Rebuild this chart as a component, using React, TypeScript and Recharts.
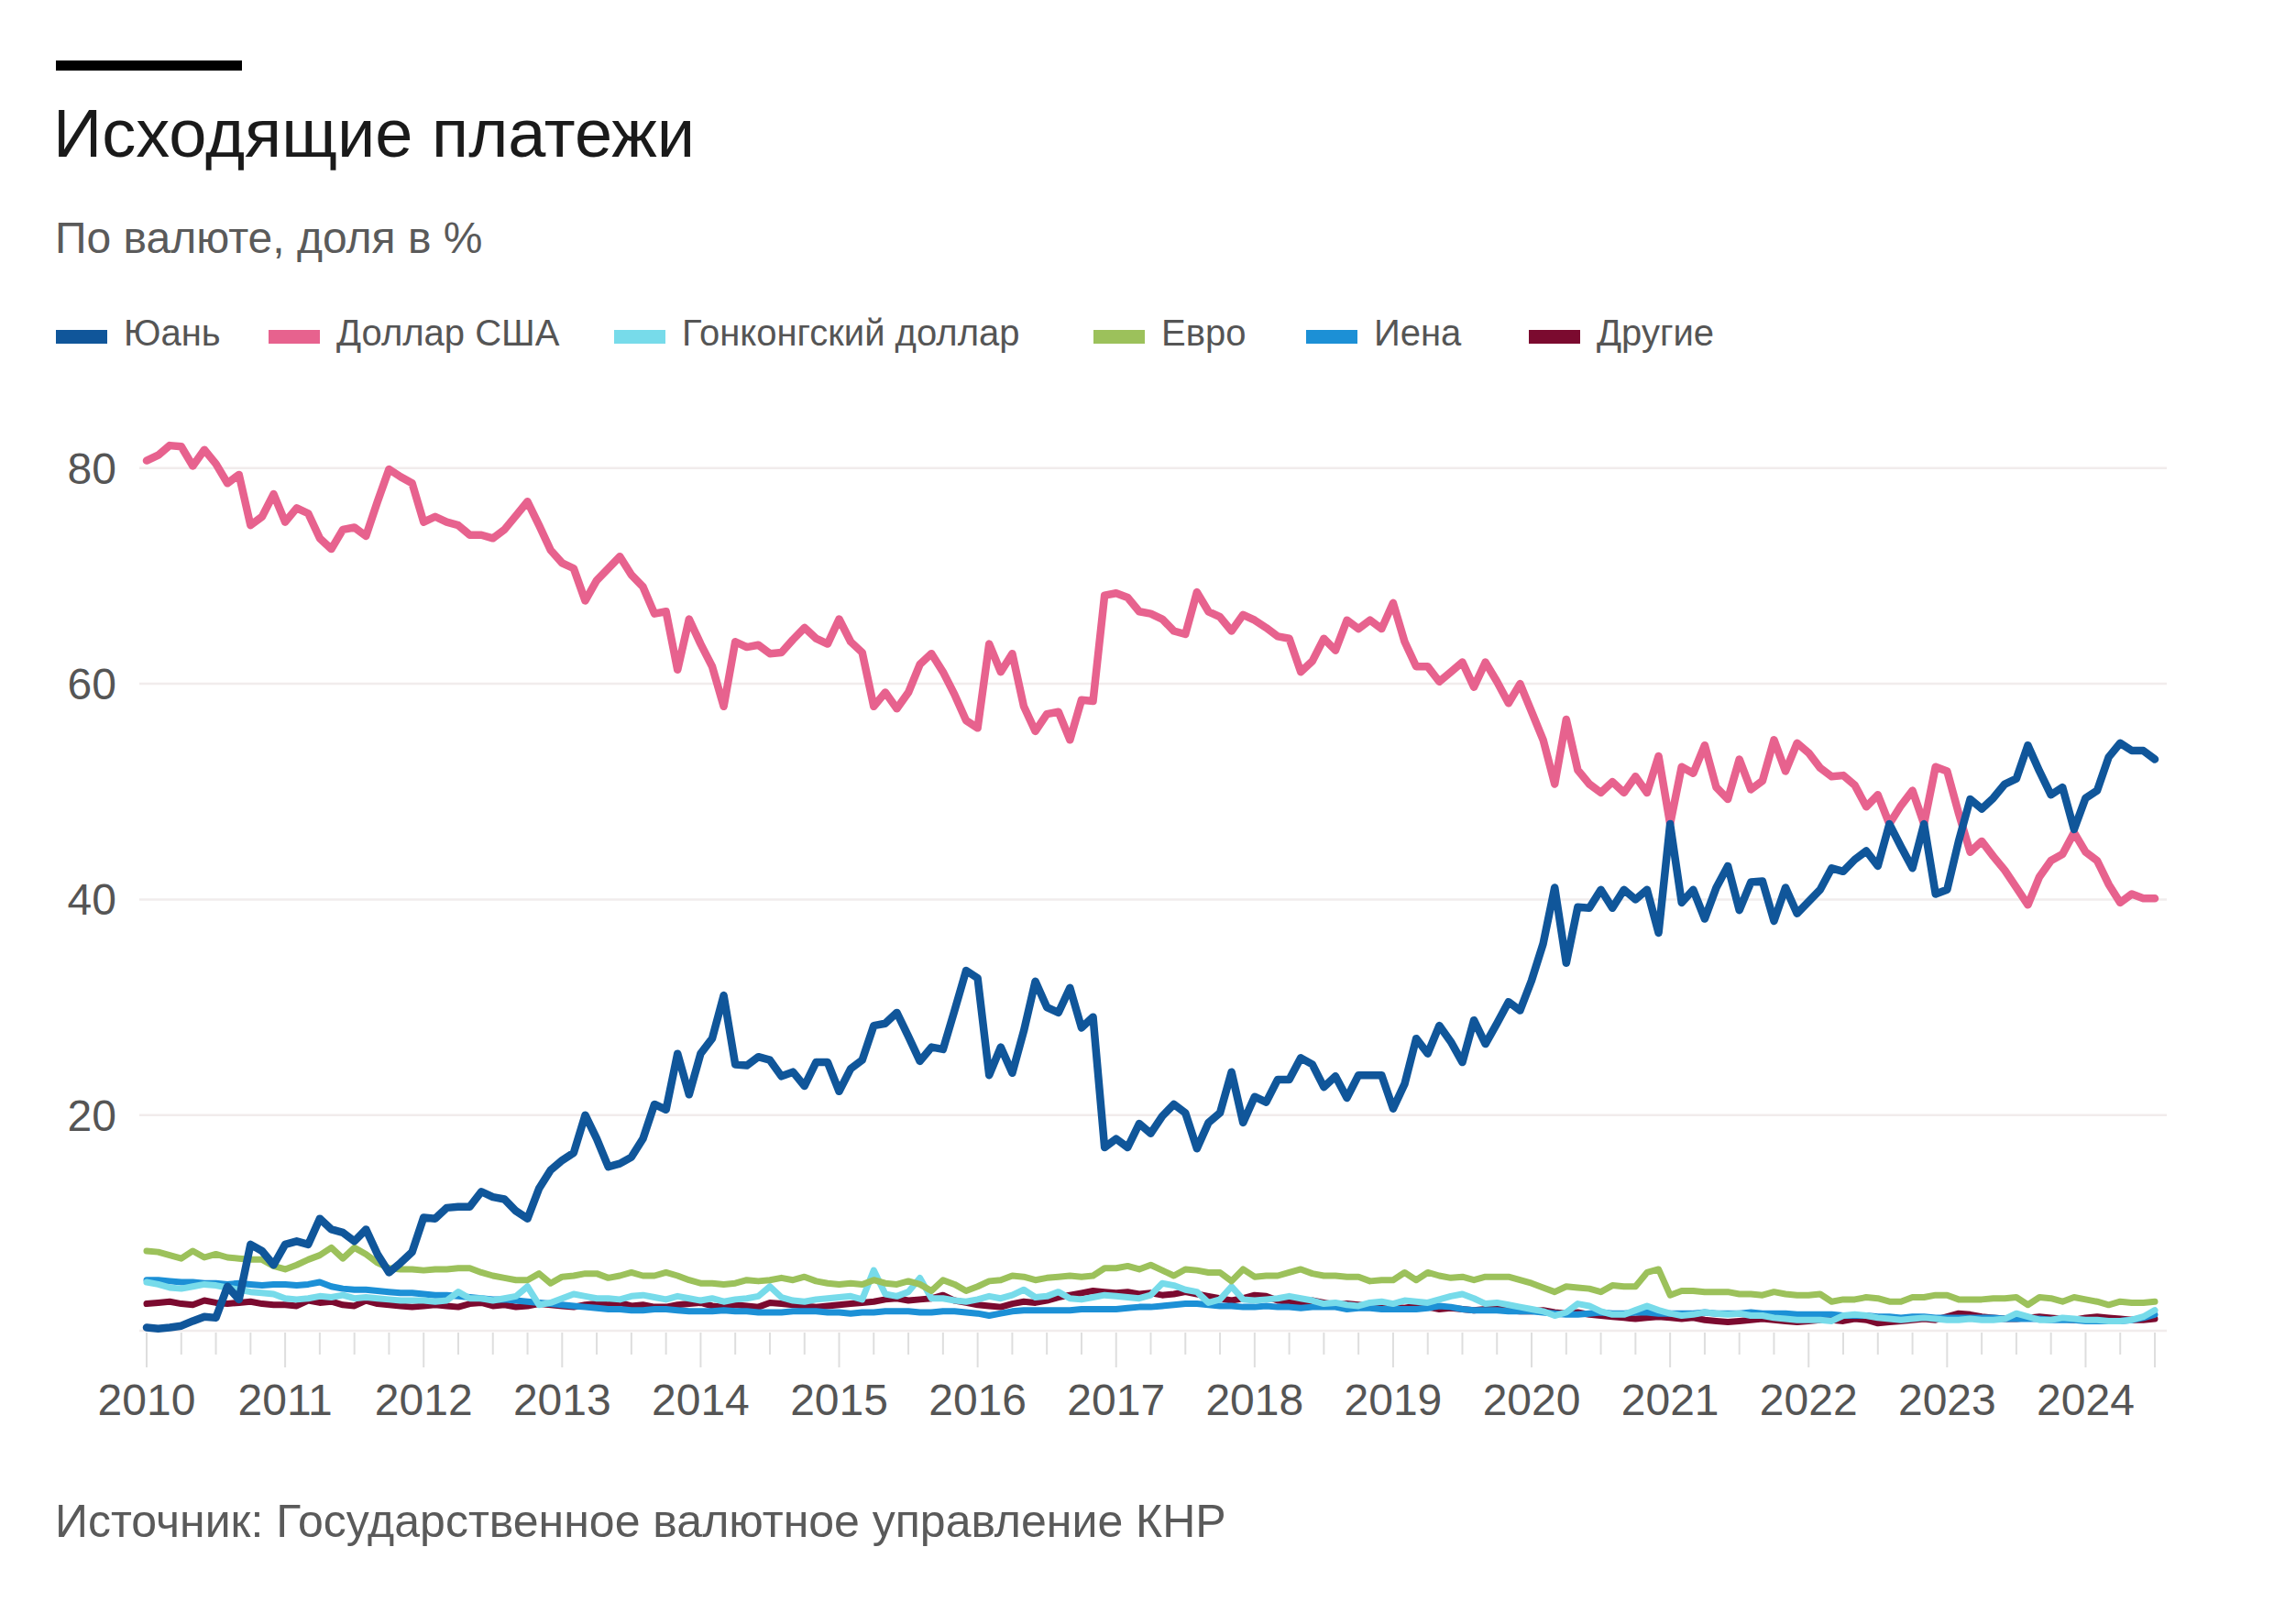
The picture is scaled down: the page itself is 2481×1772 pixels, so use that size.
import { LineChart, Line, XAxis, YAxis, ReferenceLine } from 'recharts';

// monthly shares, Jan 2010 .. Jul 2024 (one row per year)
const START_YEAR = 2010;

const yuan = [
  0.3, 0.2, 0.3, 0.45, 0.9, 1.3, 1.2, 4.1, 2.9, 8.0, 7.4, 6.1,
  8.0, 8.3, 8.0, 10.4, 9.4, 9.1, 8.3, 9.4, 7.1, 5.4, 6.3, 7.3,
  10.5, 10.4, 11.4, 11.5, 11.5, 12.9, 12.4, 12.2, 11.1, 10.4, 13.2, 14.9,
  15.8, 16.5, 20.0, 17.8, 15.2, 15.5, 16.1, 17.8, 21.0, 20.5, 25.7, 21.9,
  25.7, 27.1, 31.1, 24.7, 24.6, 25.4, 25.1, 23.6, 24.0, 22.7, 24.9, 24.9,
  22.2, 24.3, 25.1, 28.3, 28.5, 29.5, 27.3, 25.0, 26.3, 26.1, 29.7, 33.4,
  32.7, 23.7, 26.3, 23.9, 27.8, 32.4, 30.0, 29.5, 31.8, 28.1, 29.1, 17.0,
  17.8, 17.0, 19.2, 18.3, 19.9, 21.0, 20.2, 16.9, 19.3, 20.2, 24.0, 19.3,
  21.7, 21.2, 23.3, 23.3, 25.3, 24.7, 22.6, 23.6, 21.6, 23.7, 23.7, 23.7,
  20.6, 22.9, 27.1, 25.7, 28.3, 26.8, 24.9, 28.8, 26.6, 28.5, 30.5, 29.7,
  32.5, 35.9, 41.1, 34.1, 39.3, 39.2, 40.9, 39.2, 40.9, 40.0, 40.9, 36.9,
  47.0, 39.7, 40.9, 38.2, 41.1, 43.1, 39.0, 41.6, 41.7, 38.0, 41.1, 38.7,
  39.8, 40.9, 42.9, 42.6, 43.7, 44.5, 43.1, 47.0, 44.9, 42.9, 47.0, 40.5,
  40.9, 45.4, 49.3, 48.4, 49.4, 50.7, 51.2, 54.3, 51.9, 49.7, 50.4, 46.5,
  49.4, 50.1, 53.2, 54.5, 53.8, 53.8, 53.0,
];

const usd = [
  80.7, 81.2, 82.1, 82.0, 80.2, 81.7, 80.4, 78.6, 79.4, 74.7, 75.5, 77.6,
  75.0, 76.3, 75.8, 73.5, 72.5, 74.3, 74.5, 73.7, 76.9, 79.9, 79.2, 78.6,
  75.0, 75.5, 75.0, 74.7, 73.8, 73.8, 73.5, 74.3, 75.6, 76.9, 74.7, 72.4,
  71.2, 70.7, 67.7, 69.6, 70.7, 71.8, 70.1, 69.0, 66.5, 66.7, 61.3, 66.0,
  63.7, 61.6, 57.9, 63.9, 63.4, 63.6, 62.8, 62.9, 64.1, 65.2, 64.2, 63.7,
  66.0, 63.9, 62.9, 57.9, 59.2, 57.7, 59.2, 61.8, 62.8, 61.1, 59.0, 56.6,
  55.9, 63.7, 61.1, 62.8, 57.9, 55.6, 57.2, 57.4, 54.8, 58.5, 58.4, 68.2,
  68.4, 68.0, 66.7, 66.5, 66.0, 64.9, 64.6, 68.5, 66.7, 66.2, 64.9, 66.4,
  65.9, 65.2, 64.4, 64.2, 61.1, 62.1, 64.2, 63.1, 65.9, 65.1, 65.9, 65.1,
  67.5, 63.9, 61.6, 61.6, 60.2, 61.1, 62.0, 59.7, 62.0, 60.2, 58.2, 60.0,
  57.4, 54.8, 50.7, 56.7, 52.0, 50.7, 49.9, 50.9, 49.9, 51.4, 49.9, 53.3,
  47.0, 52.3, 51.7, 54.3, 50.4, 49.3, 53.0, 50.2, 51.0, 54.8, 51.9, 54.5,
  53.6, 52.2, 51.4, 51.5, 50.6, 48.6, 49.7, 47.0, 48.7, 50.1, 47.0, 52.3,
  51.9, 48.0, 44.4, 45.4, 44.0, 42.7, 41.1, 39.5, 42.1, 43.6, 44.2, 46.2,
  44.4, 43.6, 41.4, 39.7, 40.5, 40.1, 40.1,
];

const hkd = [
  4.5, 4.3, 4.0, 3.9, 4.1, 4.3, 4.2, 4.0, 3.8, 3.6, 3.5, 3.4,
  3.0, 2.9, 3.0, 3.2, 3.1, 3.3, 3.0, 3.1, 3.0, 2.9, 2.8, 2.8,
  2.8, 2.7, 2.8, 3.6, 3.0, 3.0, 2.8, 3.0, 3.2, 4.1, 2.4, 2.6,
  3.0, 3.4, 3.2, 3.0, 3.0, 2.9, 3.2, 3.3, 3.1, 2.9, 3.2, 3.0,
  2.8, 3.0, 2.7, 2.9, 3.0, 3.2, 4.1, 3.1, 2.8, 2.7, 2.9, 3.0,
  3.1, 3.2, 2.9, 5.6, 3.4, 3.2, 3.6, 4.9, 3.0, 3.0, 2.8, 2.7,
  2.9, 3.2, 3.0, 3.3, 3.8, 3.1, 3.2, 3.6, 3.0, 2.9, 3.1, 3.3,
  3.2, 3.1, 3.0, 3.3, 4.4, 4.2, 3.8, 3.6, 2.6, 2.9, 4.1, 2.9,
  2.8, 2.9, 3.0, 3.2, 3.0, 2.8, 2.5, 2.6, 2.4, 2.3, 2.6, 2.7,
  2.5, 2.8, 2.7, 2.6, 2.9, 3.2, 3.4, 3.0, 2.5, 2.6, 2.4, 2.2,
  2.0, 1.8, 1.4, 1.7, 2.5, 2.3, 1.8, 1.5, 1.5, 1.9, 2.3, 1.9,
  1.6, 1.4, 1.5, 1.7, 1.6, 1.5, 1.6, 1.4, 1.4, 1.2, 1.1, 1.0,
  1.0, 1.0, 0.9, 1.4, 1.5, 1.4, 1.2, 1.1, 1.0, 1.1, 1.2, 1.1,
  1.0, 1.0, 1.1, 1.0, 1.0, 1.1, 1.6, 1.3, 1.0, 1.0, 1.2, 1.1,
  1.0, 1.0, 0.9, 0.9, 1.0, 1.3, 1.9,
];

const euro = [
  7.4, 7.3, 7.0, 6.7, 7.4, 6.8, 7.1, 6.8, 6.7, 6.6, 6.6, 6.0,
  5.7, 6.1, 6.6, 7.0, 7.7, 6.7, 7.7, 7.1, 6.3, 5.8, 5.7, 5.7,
  5.6, 5.7, 5.7, 5.8, 5.8, 5.4, 5.1, 4.9, 4.7, 4.7, 5.3, 4.4,
  5.0, 5.1, 5.3, 5.3, 4.9, 5.1, 5.4, 5.1, 5.1, 5.4, 5.1, 4.7,
  4.4, 4.4, 4.3, 4.4, 4.7, 4.6, 4.7, 4.9, 4.7, 5.0, 4.6, 4.4,
  4.3, 4.4, 4.3, 4.7, 4.4, 4.3, 4.6, 4.3, 3.7, 4.7, 4.3, 3.7,
  4.1, 4.6, 4.7, 5.1, 5.0, 4.7, 4.9, 5.0, 5.1, 5.0, 5.1, 5.8,
  5.8, 6.0, 5.7, 6.1, 5.6, 5.1, 5.7, 5.6, 5.4, 5.4, 4.6, 5.7,
  5.0, 5.1, 5.1, 5.4, 5.7, 5.3, 5.1, 5.1, 5.0, 5.0, 4.6, 4.7,
  4.7, 5.4, 4.7, 5.4, 5.1, 4.9, 5.0, 4.7, 5.0, 5.0, 5.0, 4.7,
  4.4, 4.0, 3.6, 4.1, 4.0, 3.9, 3.6, 4.2, 4.1, 4.1, 5.4, 5.7,
  3.3, 3.7, 3.7, 3.6, 3.6, 3.6, 3.4, 3.4, 3.3, 3.6, 3.4, 3.3,
  3.3, 3.4, 2.7, 2.9, 2.9, 3.1, 3.0, 2.7, 2.7, 3.1, 3.1, 3.3,
  3.3, 2.9, 2.9, 2.9, 3.0, 3.0, 3.1, 2.4, 3.1, 3.0, 2.7, 3.1,
  2.9, 2.7, 2.4, 2.7, 2.6, 2.6, 2.7,
];

const yen = [
  4.7, 4.7, 4.6, 4.5, 4.5, 4.4, 4.4, 4.3, 4.4, 4.3, 4.2, 4.3,
  4.3, 4.2, 4.3, 4.5, 4.1, 3.9, 3.8, 3.8, 3.7, 3.6, 3.5, 3.5,
  3.4, 3.3, 3.3, 3.2, 3.1, 3.0, 2.9, 2.9, 2.8, 2.7, 2.6, 2.5,
  2.4, 2.3, 2.2, 2.1, 2.0, 2.0, 1.9, 1.9, 2.0, 2.0, 1.9, 1.8,
  1.8, 1.8, 1.9, 1.8, 1.8, 1.7, 1.7, 1.7, 1.8, 1.8, 1.8, 1.7,
  1.7, 1.6, 1.7, 1.7, 1.8, 1.8, 1.8, 1.7, 1.7, 1.8, 1.8, 1.7,
  1.6, 1.4, 1.6, 1.8, 1.9, 1.9, 1.9, 1.9, 1.9, 2.0, 2.0, 2.0,
  2.0, 2.1, 2.2, 2.2, 2.3, 2.4, 2.5, 2.5, 2.4, 2.3, 2.3, 2.2,
  2.2, 2.3, 2.2, 2.2, 2.1, 2.2, 2.2, 2.2, 2.0, 2.1, 2.1, 2.0,
  2.0, 2.0, 2.0, 2.1, 2.3, 2.2, 2.0, 1.9, 1.9, 1.9, 1.8, 1.8,
  1.8, 1.7, 1.6, 1.5, 1.5, 1.6, 1.7, 1.6, 1.6, 1.7, 1.7, 1.6,
  1.6, 1.6, 1.6, 1.7, 1.6, 1.6, 1.6, 1.7, 1.6, 1.6, 1.6, 1.5,
  1.5, 1.5, 1.5, 1.4, 1.4, 1.4, 1.3, 1.3, 1.2, 1.3, 1.3, 1.2,
  1.2, 1.2, 1.2, 1.2, 1.2, 1.1, 1.1, 1.1, 1.1, 1.0, 1.0, 1.0,
  0.9, 0.9, 0.9, 0.9, 1.0, 1.2, 1.5,
];

const other = [
  2.5, 2.6, 2.7, 2.5, 2.4, 2.8, 2.6, 2.5, 2.6, 2.7, 2.5, 2.4,
  2.4, 2.3, 2.8, 2.6, 2.7, 2.4, 2.3, 2.8, 2.5, 2.4, 2.3, 2.2,
  2.3, 2.4, 2.3, 2.2, 2.5, 2.6, 2.3, 2.4, 2.2, 2.3, 2.5, 2.4,
  2.3, 2.2, 2.4, 2.5, 2.4, 2.6, 2.3, 2.4, 2.2, 2.2, 2.4, 2.5,
  2.6, 2.3, 2.2, 2.4, 2.3, 2.2, 2.6, 2.5, 2.4, 2.3, 2.2, 2.3,
  2.4, 2.5, 2.6, 2.7, 2.9, 3.0, 2.8, 2.9, 3.0, 3.3, 2.8, 2.6,
  2.4, 2.3, 2.2, 2.5, 2.7, 2.6, 2.8, 3.1, 3.3, 3.5, 3.7, 3.6,
  3.5, 3.6, 3.4, 3.5, 3.3, 3.4, 3.6, 3.4, 3.2, 3.0, 2.8, 3.0,
  3.3, 3.2, 2.8, 2.7, 2.5, 2.8, 2.6, 2.4, 2.5, 2.4, 2.3, 2.2,
  2.2, 2.1, 2.3, 2.2, 2.0, 2.1, 2.0, 1.9, 2.0, 2.1, 1.9, 1.8,
  1.8, 1.9, 1.7, 1.6, 1.7, 1.5, 1.4, 1.3, 1.2, 1.1, 1.2, 1.3,
  1.2, 1.1, 1.2, 1.0, 0.9, 0.8, 0.9, 1.0, 1.1, 1.0, 0.9, 0.8,
  0.9, 1.0, 1.0, 0.9, 1.1, 1.0, 0.7, 0.8, 0.9, 1.0, 1.1, 1.0,
  1.3, 1.6, 1.5, 1.3, 1.2, 1.1, 1.1, 1.2, 1.3, 1.2, 1.1, 1.0,
  1.2, 1.3, 1.2, 1.1, 1.0, 1.0, 1.1,
];

const yTicks = [0, 20, 40, 60, 80];

const series = [
  { key: 'yuan', name: 'Юань', color: '#10569a' },
  { key: 'usd', name: 'Доллар США', color: '#e7628e' },
  { key: 'hkd', name: 'Гонконгский доллар', color: '#77dbea' },
  { key: 'euro', name: 'Евро', color: '#9cc15b' },
  { key: 'yen', name: 'Иена', color: '#1c90d6' },
  { key: 'other', name: 'Другие', color: '#7b0a2f' },
];

// draw order: small ones first, the two big lines last
const drawOrder = ['other', 'yen', 'hkd', 'euro', 'usd', 'yuan'];

const data = yuan.map((v, i) => ({
  t: START_YEAR + i / 12,
  yuan: v,
  usd: usd[i],
  hkd: hkd[i],
  euro: euro[i],
  yen: yen[i],
  other: other[i],
}));

const lastT = data[data.length - 1].t;
const quarterTicks: number[] = [];
for (let q = 0; START_YEAR + q / 4 <= lastT + 1e-9; q++) quarterTicks.push(START_YEAR + q / 4);

const FONT = '"Liberation Sans", Arial, Helvetica, sans-serif';
const W = 2481;
const H = 1772;
const PLOT_BOTTOM = 1452;

const legendLeft = [61, 293, 670, 1193, 1425, 1668];

function XTick(props: any) {
  const { x, payload } = props;
  const v = payload.value as number;
  const isYear = Math.abs(v - Math.round(v)) < 1e-6;
  const long = isYear || Math.abs(v - lastT) < 1e-6;
  return (
    <g>
      <line x1={x} x2={x} y1={PLOT_BOTTOM + 2} y2={PLOT_BOTTOM + (long ? 40 : 26)} stroke="#dedede" strokeWidth={2} />
      {isYear && (
        <text x={x} y={PLOT_BOTTOM + 92} textAnchor="middle" fontSize={48} fill="#555" fontFamily={FONT}>
          {Math.round(v)}
        </text>
      )}
    </g>
  );
}

function YTick(props: any) {
  const { y, payload } = props;
  if (payload.value === 0) return <g />;
  return (
    <text x={127} y={y + 17} textAnchor="end" fontSize={48} fill="#555" fontFamily={FONT}>
      {payload.value}
    </text>
  );
}

export default function App() {
  return (
    <div style={{ position: 'absolute', left: 0, top: 0, width: W, height: H, background: '#fff', fontFamily: FONT, overflow: 'hidden' }}>
      <div style={{ position: 'absolute', left: 61, top: 66, width: 203, height: 11, background: '#000' }} />
      <div style={{ position: 'absolute', left: 58, top: 109, fontSize: 74, lineHeight: '74px', color: '#1a1a1a', whiteSpace: 'nowrap' }}>
        Исходящие платежи
      </div>
      <div style={{ position: 'absolute', left: 60, top: 236, fontSize: 48, lineHeight: '48px', color: '#5a5a5a', whiteSpace: 'nowrap' }}>
        По валюте, доля в %
      </div>
      {series.map((s, i) => (
        <div key={s.key} style={{ position: 'absolute', left: legendLeft[i], top: 343, height: 40, display: 'flex', alignItems: 'center', whiteSpace: 'nowrap' }}>
          <span style={{ display: 'inline-block', width: 56, height: 15, background: s.color, marginRight: 18, marginTop: 8 }} />
          <span style={{ fontSize: 40, lineHeight: '40px', color: '#555' }}>{s.name}</span>
        </div>
      ))}

      <div style={{ position: 'absolute', left: 0, top: 0 }}>
        <LineChart width={W} height={H} data={data} margin={{ top: 452, right: 117, bottom: 220, left: 52 }}>
          <XAxis
            type="number"
            dataKey="t"
            domain={[START_YEAR, lastT]}
            ticks={quarterTicks}
            interval={0}
            tick={(p: any) => <XTick {...p} />}
            axisLine={false}
            tickLine={false}
            height={100}
            padding={{ left: 8, right: 13 }}
          />
          <YAxis
            type="number"
            domain={[0, 85]}
            ticks={yTicks}
            interval={0}
            tick={(p: any) => <YTick {...p} />}
            axisLine={false}
            tickLine={false}
            width={100}
          />
          {yTicks.map((v) => (
            <ReferenceLine key={v} y={v} stroke="#f1ecec" strokeWidth={2.5} ifOverflow="extendDomain" />
          ))}
          {drawOrder.map((k) => {
            const s = series.find((x) => x.key === k)!;
            return (
              <Line
                key={k}
                type="linear"
                dataKey={k}
                name={s.name}
                stroke={s.color}
                strokeWidth={k === 'yuan' || k === 'usd' ? 8.5 : 7}
                strokeLinejoin="round"
                strokeLinecap="round"
                dot={false}
                activeDot={false}
                isAnimationActive={false}
              />
            );
          })}
        </LineChart>
      </div>

      <div style={{ position: 'absolute', left: 60, top: 1635, fontSize: 50, lineHeight: '50px', color: '#5a5a5a', whiteSpace: 'nowrap' }}>
        Источник: Государственное валютное управление КНР
      </div>
    </div>
  );
}
